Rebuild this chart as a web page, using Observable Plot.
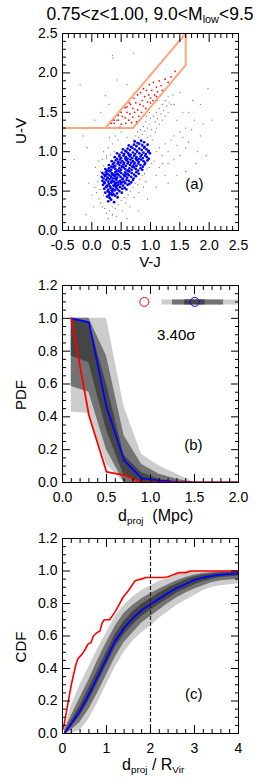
<!DOCTYPE html>
<html><head><meta charset="utf-8">
<script src="https://cdn.jsdelivr.net/npm/d3@7"></script>
<script src="https://cdn.jsdelivr.net/npm/@observablehq/plot@0.6"></script>
<style>
body{margin:0;background:#fff;}
#wrap{position:relative;width:260px;height:780px;font-family:"Liberation Sans",Arial,sans-serif;color:#000;overflow:hidden;}
.lbl{position:absolute;white-space:nowrap;font-size:15px;line-height:1;transform:translate(-50%,-50%);}
.lbl.left{transform:translate(0,-50%);}
.lbl.rot{transform:translate(-50%,-50%) rotate(-90deg);}
.sub{font-size:0.62em;position:relative;top:0.35em;}
.panel{position:absolute;left:0;}
</style></head><body><div id="wrap"></div>
<script>
// ---------- DATA ----------
// panel (a): UVJ diagram points [V-J, U-V] in hundredths
const grayDots = "5,55 10,62 8,48 12,40 15,35 18,30 22,28 25,22 30,25 35,30 20,45 14,52 10,70 6,80 12,88 18,90 25,95 20,82 15,75 35,20 40,28 45,33 50,38 55,42 58,35 62,45 66,50 70,55 74,60 78,58 82,65 86,70 90,72 94,78 98,80 102,85 106,88 92,62 88,55 80,48 72,42 -5,60 0,45 3,30 28,15 42,18 52,25 65,30 20,100 28,105 35,110 30,118 40,120 45,115 50,125 38,100 25,92 32,96 55,130 48,132 42,140 60,118 72,115 75,120 78,125 80,118 83,128 86,122 88,132 90,126 92,138 95,130 98,135 100,142 102,128 105,145 108,138 110,150 112,142 115,155 118,148 120,160 122,152 125,165 128,158 130,170 132,162 115,135 120,140 108,125 100,120 95,118 90,112 85,110 110,130 125,145 130,150 135,160 138,172 105,160 98,150 112,165 118,172 78,135 82,140 76,112 70,108 93,145 96,108 103,115 110,100 115,105 120,95 125,110 130,100 135,115 140,120 145,108 150,125 155,118 160,130 165,112 170,128 175,140 180,100 185,120 190,135 195,95 150,95 140,90 130,85 120,85 115,80 160,105 145,140 155,150 140,160 165,150 172,165 150,175 185,160 198,180 178,85 160,75 145,70 125,70 110,70 205,140 -20,185 23,171 29,160 35,222 36,219 71,225 43,191 60,185 -8,105 -15,120 5,140 15,150 -30,90 -10,20 60,15 80,25 95,40 110,55 130,60";
const blueDots = "28,37 33,39 38,36 31,41 26,43 30,42 35,45 40,44 44,42 33,46 29,45 23,48 27,50 31,47 35,49 39,51 43,47 47,50 51,48 37,46 29,49 21,53 24,55 28,52 32,54 36,53 40,56 44,52 48,55 52,53 56,54 59,52 34,51 42,54 26,56 19,58 22,60 26,57 29,59 33,61 37,57 41,60 45,58 49,59 53,57 57,60 61,58 64,59 31,56 43,57 51,61 39,59 18,63 21,61 24,64 28,62 31,65 35,63 38,62 42,64 45,61 48,63 52,65 55,62 59,64 63,63 67,61 70,64 27,66 40,66 50,61 33,61 17,68 20,66 23,69 27,67 30,70 33,68 36,66 39,69 43,67 46,70 49,68 53,66 56,69 60,67 63,70 67,68 71,66 75,69 25,71 41,71 58,71 35,71 18,73 21,71 24,74 27,72 31,75 34,73 37,71 40,74 44,72 47,75 50,73 54,71 57,74 61,72 64,75 68,73 72,71 76,74 80,72 29,76 45,76 62,76 23,78 26,76 29,79 33,77 36,80 40,78 43,76 47,79 50,77 54,80 57,78 61,76 64,79 68,77 72,80 75,78 79,76 83,79 86,77 38,81 52,81 70,81 29,83 33,81 36,84 40,82 44,85 47,83 51,81 54,84 58,82 61,85 65,83 69,81 72,84 76,82 79,85 83,83 87,81 90,84 49,86 67,86 34,88 38,86 41,89 45,87 48,90 52,88 55,86 59,89 62,87 66,90 70,88 73,86 77,89 80,87 84,90 88,88 91,86 95,89 57,91 75,91 39,93 43,91 47,94 50,92 54,95 58,93 61,91 65,94 69,92 72,95 76,93 80,91 83,94 87,92 91,95 94,93 97,91 63,96 43,98 47,96 51,99 55,97 59,100 62,98 66,96 70,99 74,97 77,100 81,98 85,96 88,99 92,97 96,100 99,98 53,103 57,101 61,104 65,102 69,105 73,103 77,101 81,104 85,102 89,105 93,103 97,101 63,108 67,106 72,109 76,107 81,110 86,108 90,106 95,109 73,113 78,111 84,114 89,112";
const redDots = "33,136 38,140 38,136 45,146 45,140 50,150 50,135 52,145 57,156 57,143 58,136 60,150 60,157 64,162 63,140 65,148 66,160 68,137 70,144 70,155 72,168 73,150 75,162 76,138 78,153 78,172 80,145 82,160 83,175 85,150 86,165 88,158 88,180 90,170 92,155 93,178 95,163 97,172 98,185 100,168 102,178 104,165 105,188 107,172 110,182 112,176 115,190 118,184 120,178 125,192 130,188 110,170 100,162 135,195 142,202";
// selection box (V-J, U-V)
const boxOuterVJ = [-0.5, 0.7, 1.6, 1.6];
const boxOuterUV = [1.3, 1.3, 2.1, 2.5];
const boxInnerVJ = [0.23, 1.6];
const boxInnerUV = [1.3, 2.5];

// panel (b): PDF vs projected distance
const pdfX    = [0.1, 0.3, 0.5, 0.7, 0.9, 1.1, 1.3, 1.5, 1.7, 1.9, 2.1];
const pdfObs  = [1.0, 0.41, 0.065, 0.045, 0, 0, 0, 0, 0, 0, 0];
const pdfMed  = [1.0, 0.975, 0.46, 0.135, 0.025, 0.012, 0.004, 0, 0, 0, 0];
const pdfLo3  = [0.43, 0.42, 0.11, 0, 0, 0, 0, 0, 0, 0, 0];
const pdfHi3  = [1.0, 1.0, 1.0, 0.46, 0.17, 0.10, 0.05, 0, 0, 0, 0];
const pdfLo2  = [0.585, 0.55, 0.2, 0, 0, 0, 0, 0, 0, 0, 0];
const pdfHi2  = [1.0, 1.0, 0.77, 0.285, 0.11, 0.05, 0.02, 0, 0, 0, 0];
const pdfLo1  = [0.77, 0.73, 0.32, 0.04, 0, 0, 0, 0, 0, 0, 0];
const pdfHi1  = [1.0, 0.98, 0.6, 0.165, 0.06, 0.02, 0, 0, 0, 0, 0];
const sigRowY = 1.1;
const obsStat = 0.93;
const simStat = 1.503;
const sigBars = [{lo: 1.13, hi: 2.0, c: "#cccccc"}, {lo: 1.25, hi: 1.83, c: "#737373"}, {lo: 1.39, hi: 1.62, c: "#454545"}];
const sigText = "3.40σ";

// panel (c): CDF vs d_proj / R_vir
const cdfObsX = [0.02,0.1,0.2,0.3,0.35,0.45,0.52,0.58,0.65,0.7,0.78,0.85,0.9,0.95,1.07,1.2,1.28,1.38,1.5,1.6,1.65,1.78,1.9,2.3,2.4,2.5,2.65,2.8,2.92,4.0];
const cdfObsY = [0.03,0.15,0.3,0.42,0.46,0.49,0.52,0.55,0.56,0.6,0.62,0.63,0.68,0.70,0.70,0.75,0.79,0.84,0.88,0.92,0.94,0.95,0.96,0.96,0.965,0.975,0.99,0.99,1.0,1.0];
const cdfX   = [0.05,0.2,0.4,0.6,0.8,1.0,1.2,1.4,1.6,1.8,2.0,2.2,2.4,2.6,2.8,3.0,3.2,3.4,3.6,3.8,4.0];
const cdfMed = [0.0,0.06,0.14,0.24,0.35,0.46,0.57,0.65,0.71,0.76,0.795,0.83,0.865,0.895,0.92,0.945,0.96,0.97,0.977,0.982,0.985];
const cdfLo3 = [0.0,0.0,0.02,0.09,0.19,0.30,0.41,0.50,0.57,0.62,0.66,0.71,0.75,0.79,0.82,0.85,0.88,0.90,0.91,0.915,0.92];
const cdfHi3 = [0.03,0.17,0.30,0.41,0.52,0.62,0.72,0.79,0.84,0.88,0.91,0.935,0.955,0.975,0.99,1.0,1.0,1.0,1.0,1.0,1.0];
const cdfLo2 = [0.0,0.02,0.07,0.15,0.25,0.36,0.47,0.56,0.62,0.68,0.72,0.76,0.80,0.835,0.865,0.89,0.91,0.93,0.94,0.945,0.95];
const cdfHi2 = [0.02,0.11,0.22,0.33,0.45,0.56,0.66,0.74,0.79,0.83,0.86,0.89,0.915,0.94,0.96,0.975,0.985,0.99,0.995,0.997,0.998];
const cdfLo1 = [0.0,0.04,0.11,0.20,0.31,0.42,0.53,0.61,0.67,0.72,0.76,0.795,0.83,0.865,0.89,0.915,0.935,0.95,0.96,0.965,0.97];
const cdfHi1 = [0.01,0.08,0.17,0.28,0.39,0.50,0.61,0.69,0.75,0.795,0.83,0.865,0.895,0.92,0.945,0.965,0.975,0.983,0.988,0.99,0.992];
const rvirLine = [2];

// tick labels
const aTicksX = [-0.5, 0, 0.5, 1, 1.5, 2, 2.5];
const aTicksY = [0, 0.5, 1, 1.5, 2, 2.5];
const bTicksX = [0, 0.5, 1, 1.5, 2];
const bTicksY = [0, 0.2, 0.4, 0.6, 0.8, 1.0, 1.2];
const cTicksX = [0, 1, 2, 3, 4];
const cTicksY = [0, 0.2, 0.4, 0.6, 0.8, 1.0, 1.2];

// ---------- helpers ----------
const parse = s => s.split(" ").map(p => p.split(",").map(v => +v / 100));
const zip = (xs, ys) => xs.map((x, i) => ({x, y: ys[i]}));
const band = (xs, lo, hi) => xs.map((x, i) => ({x, lo: lo[i], hi: hi[i]}));
const f1 = d => d.toFixed(1);
const f0 = d => d.toFixed(0);
const C_LIGHT = "#cccccc", C_MID = "#737373", C_DARK = "#454545";

function frameAxes(xMaj, xMin, yMaj, yMin, fx, fy) {
  const t = {fill: null, label: null, stroke: "black", strokeWidth: 1};
  return [
    Plot.axisX(xMaj, {anchor: "bottom", tickSize: -8, ...t}),
    Plot.axisX(xMaj, {anchor: "top", tickSize: -8, ...t}),
    Plot.axisX(xMin, {anchor: "bottom", tickSize: -4, ...t}),
    Plot.axisX(xMin, {anchor: "top", tickSize: -4, ...t}),
    Plot.axisY(yMaj, {anchor: "left", tickSize: -8, ...t}),
    Plot.axisY(yMaj, {anchor: "right", tickSize: -8, ...t}),
    Plot.axisY(yMin, {anchor: "left", tickSize: -4, ...t}),
    Plot.axisY(yMin, {anchor: "right", tickSize: -4, ...t}),
    Plot.axisX(xMaj, {anchor: "bottom", tickSize: 0, tickPadding: 10, tickFormat: fx, label: null, fontSize: 14}),
    Plot.axisY(yMaj, {anchor: "left", tickSize: 0, tickPadding: 5, tickFormat: fy, label: null, fontSize: 14}),
    Plot.frame({stroke: "black", strokeWidth: 1})
  ];
}
const style = {fontFamily: "Liberation Sans, Arial, sans-serif", fontSize: "14px", background: "transparent", overflow: "visible", color: "black"};

// ---------- panel a ----------
const aMinX = d3.range(-5, 26).filter(i => i % 5 !== 0).map(i => i / 10);
const aMinY = d3.range(0, 26).filter(i => i % 5 !== 0).map(i => i / 10);
const A = Plot.plot({
  width: 260, height: 262, marginTop: 33, marginBottom: 32, marginLeft: 62, marginRight: 22,
  x: {domain: [-0.5, 2.5], axis: null}, y: {domain: [0, 2.5], axis: null}, style,
  marks: [
    Plot.dot(parse(grayDots), {x: d => d[0], y: d => d[1], r: 0.65, fill: "#7a7a7a", stroke: null}),
    Plot.dot(parse(blueDots), {x: d => d[0], y: d => d[1], r: 1.35, fill: "#0000ff", stroke: null}),
    Plot.line(zip(boxOuterVJ, boxOuterUV), {x: "x", y: "y", stroke: "#ffa57e", strokeWidth: 2, clip: true}),
    Plot.line(zip(boxInnerVJ, boxInnerUV), {x: "x", y: "y", stroke: "#ffa57e", strokeWidth: 2, clip: true}),
    Plot.dot(parse(redDots), {x: d => d[0], y: d => d[1], r: 0.85, fill: "#ff0000", stroke: null}),
    Plot.text(["(a)"], {frameAnchor: "bottom-right", dx: -35, dy: -42, fontSize: 15}),
    ...frameAxes(aTicksX, aMinX, aTicksY, aMinY, f1, f1)
  ]
});

// ---------- panel b ----------
const bMinX = d3.range(0, 21).filter(i => i % 5 !== 0).map(i => i / 10);
const bMinY = d3.range(0, 25).filter(i => i % 4 !== 0).map(i => i / 20);
const B = Plot.plot({
  width: 260, height: 260, marginTop: 23, marginBottom: 40, marginLeft: 62, marginRight: 22,
  x: {domain: [0, 2], axis: null}, y: {domain: [0, 1.2], axis: null}, style,
  marks: [
    Plot.areaY(band(pdfX, pdfLo3, pdfHi3), {x: "x", y1: "lo", y2: "hi", fill: C_LIGHT, clip: true}),
    Plot.areaY(band(pdfX, pdfLo2, pdfHi2), {x: "x", y1: "lo", y2: "hi", fill: C_MID, clip: true}),
    Plot.areaY(band(pdfX, pdfLo1, pdfHi1), {x: "x", y1: "lo", y2: "hi", fill: C_DARK, clip: true}),
    Plot.line(zip(pdfX, pdfMed), {x: "x", y: "y", stroke: "#0000ff", strokeWidth: 1.8, clip: true}),
    Plot.line(zip(pdfX, pdfObs), {x: "x", y: "y", stroke: "#ff0000", strokeWidth: 1.8, clip: true}),
    Plot.ruleY(sigBars, {x1: "lo", x2: "hi", y: () => sigRowY, stroke: "c", strokeWidth: 5}),
    Plot.dot([obsStat], {x: d => d, y: () => sigRowY, r: 4.5, stroke: "#ff0000", fill: "none", strokeWidth: 1}),
    Plot.dot([simStat], {x: d => d, y: () => sigRowY, r: 4.5, stroke: "#0000ff", fill: "none", strokeWidth: 1}),
    Plot.text([sigText], {frameAnchor: "top-right", dx: -43, dy: 44, fontSize: 15}),
    Plot.text(["(b)"], {frameAnchor: "bottom-right", dx: -36, dy: -33, fontSize: 15}),
    ...frameAxes(bTicksX, bMinX, bTicksY, bMinY, f1, f1)
  ]
});

// ---------- panel c ----------
const cMinX = d3.range(0, 21).filter(i => i % 5 !== 0).map(i => i / 5);
const cMinY = d3.range(0, 25).filter(i => i % 4 !== 0).map(i => i / 20);
const C = Plot.plot({
  width: 260, height: 258, marginTop: 16, marginBottom: 47, marginLeft: 62, marginRight: 22,
  x: {domain: [0, 4], axis: null}, y: {domain: [0, 1.2], axis: null}, style,
  marks: [
    Plot.areaY(band(cdfX, cdfLo3, cdfHi3), {x: "x", y1: "lo", y2: "hi", fill: C_LIGHT, clip: true}),
    Plot.areaY(band(cdfX, cdfLo2, cdfHi2), {x: "x", y1: "lo", y2: "hi", fill: C_MID, clip: true}),
    Plot.areaY(band(cdfX, cdfLo1, cdfHi1), {x: "x", y1: "lo", y2: "hi", fill: C_DARK, clip: true}),
    Plot.line(zip(cdfX, cdfMed), {x: "x", y: "y", stroke: "#0000ff", strokeWidth: 1.8, clip: true}),
    Plot.line(zip(cdfObsX, cdfObsY), {x: "x", y: "y", stroke: "#ff0000", strokeWidth: 1.6, clip: true}),
    Plot.ruleX(rvirLine, {stroke: "#222", strokeWidth: 1.2, strokeDasharray: "4,2"}),
    Plot.text(["(c)"], {frameAnchor: "bottom-right", dx: -36, dy: -35, fontSize: 15}),
    ...frameAxes(cTicksX, cMinX, cTicksY, cMinY, f0, f1)
  ]
});

// ---------- layout ----------
const wrap = document.getElementById("wrap");
[[A, 0], [B, 262], [C, 522]].forEach(([svg, top]) => {
  svg.classList.add("panel");
  svg.style.top = top + "px";
  wrap.appendChild(svg);
});
function label(html, x, y, cls = "", size = 15) {
  const d = document.createElement("div");
  d.className = "lbl " + cls;
  d.style.left = x + "px"; d.style.top = y + "px"; d.style.fontSize = size + "px";
  d.innerHTML = html;
  wrap.appendChild(d);
}
label('0.75&lt;z&lt;1.00, 9.0&lt;M<span class="sub">low</span>&lt;9.5', 150, 14.5, "", 17.5);
label("U-V", 20, 131, "rot");
label("V-J", 150, 261);
label("PDF", 20, 395, "rot");
label('d<span class="sub">proj</span>&nbsp; (Mpc)', 118, 516, "left", 16);
label("CDF", 20, 647, "rot");
label('d<span class="sub">proj</span> / R<span class="sub">Vir</span>', 122, 765, "left", 16);
</script></body></html>
